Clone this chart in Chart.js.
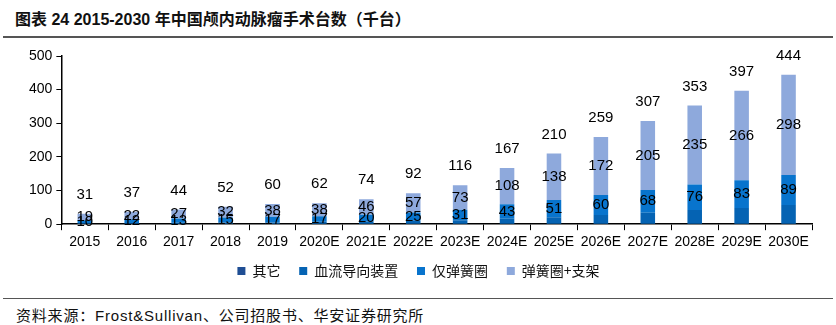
<!DOCTYPE html>
<html>
<head>
<meta charset="utf-8">
<script src="https://cdn.jsdelivr.net/npm/chart.js@4/dist/chart.umd.min.js"></script>
<style>
  body { margin: 0; background: #fff; width: 836px; height: 325px; position: relative; overflow: hidden; }
  #title { position: absolute; left: 15px; top: 6px; font: bold 16px "Liberation Sans", "Noto Sans CJK SC", sans-serif; color: #111; }
  #topline { position: absolute; left: 3px; right: 3px; top: 36px; height: 2px; background: #555; }
  #botline { position: absolute; left: 3px; right: 3px; top: 298px; height: 1px; background: #555; }
  #source { position: absolute; left: 16px; top: 304px; font: 15px "Liberation Sans", "Noto Sans CJK SC", sans-serif; letter-spacing: 0.8px; color: #111; }
  #wrap { position: absolute; left: 0; top: 40px; width: 836px; height: 248px; }
</style>
</head>
<body>
<div id="title">图表 24 2015-2030 年中国颅内动脉瘤手术台数（千台）</div>
<div id="topline"></div>
<div id="wrap"><canvas id="chart"></canvas></div>
<div id="botline"></div>
<div id="source">资料来源：Frost&amp;Sullivan、公司招股书、华安证券研究所</div>
<script>
var years = ['2015','2016','2017','2018','2019','2020E','2021E','2022E','2023E','2024E','2025E','2026E','2027E','2028E','2029E','2030E'];
// 千台
var other = [0,0,0,0,0,0,0,0,0,0,0,0,0,0,0,0];
var flowDiverter = [2,3,4,5,5,7,8,10,12,16,21,27,34,42,48,57];
var coilOnly = [10,12,13,15,17,17,20,25,31,43,51,60,68,76,83,89];
var coilStent = [19,22,27,32,38,38,46,57,73,108,138,172,205,235,266,298];
var totals = [31,37,44,52,60,62,74,92,116,167,210,259,307,353,397,444];
var yTicks = [0,100,200,300,400,500];

// draw the numbers on the bars
const labelPlugin = {
  id: 'barLabels',
  afterDatasetsDraw(chart) {
    const ctx = chart.ctx;
    ctx.save();
    ctx.font = '15px "Liberation Sans", Arial, sans-serif';
    ctx.fillStyle = '#000';
    ctx.textAlign = 'center';
    ctx.textBaseline = 'middle';
    const mCoil = chart.getDatasetMeta(2);
    const mStent = chart.getDatasetMeta(3);
    years.forEach((y, i) => {
      const a = mCoil.data[i], b = mStent.data[i];
      ctx.fillText(coilOnly[i], a.x, (a.y + a.base) / 2);
      ctx.fillText(coilStent[i], b.x, (b.y + b.base) / 2);
      ctx.fillText(totals[i], b.x, b.y - 19);
    });
    ctx.restore();
  }
};

const barCfg = { barPercentage: 0.31, categoryPercentage: 1, borderWidth: 0 };

const cfg = {
  type: 'bar',
  data: {
    labels: years,
    datasets: [
      Object.assign({ label: '其它', data: other, backgroundColor: '#1F4E94' }, barCfg),
      Object.assign({ label: '血流导向装置', data: flowDiverter, backgroundColor: '#0563B3' }, barCfg),
      Object.assign({ label: '仅弹簧圈', data: coilOnly, backgroundColor: '#0874CD' }, barCfg),
      Object.assign({ label: '弹簧圈+支架', data: coilStent, backgroundColor: '#8EA9DC' }, barCfg)
    ]
  },
  options: {
    responsive: true,
    maintainAspectRatio: false,
    animation: false,
    layout: { padding: { top: 16, left: 25, right: 24, bottom: 0 } },
    plugins: {
      tooltip: { enabled: false },
      legend: {
        position: 'bottom',
        labels: {
          boxWidth: 8, boxHeight: 8, padding: 9,
          color: '#111',
          font: { size: 14, family: '"Noto Sans CJK SC", sans-serif' },
          // a bit more room between items
          generateLabels: (chart) => Chart.defaults.plugins.legend.labels.generateLabels(chart).map((l, i, arr) => {
            if (i < arr.length - 1) l.text += '\u2002\u2009';
            return l;
          })
        }
      }
    },
    scales: {
      x: {
        stacked: true,
        grid: { display: true, drawOnChartArea: false, offset: true, tickLength: 6, color: '#000', tickColor: '#000' },
        border: { display: true, color: '#000', width: 1.5 },
        ticks: { color: '#000', font: { size: 14, family: '"Liberation Sans", Arial, sans-serif' }, maxRotation: 0, padding: 4 }
      },
      y: {
        stacked: true,
        min: 0, max: 500,
        afterBuildTicks: (axis) => { axis.ticks = yTicks.map(v => ({ value: v })); },
        grid: { display: true, drawOnChartArea: false, tickLength: 5, color: '#000', tickColor: '#000' },
        border: { display: true, color: '#000', width: 1.5 },
        ticks: { color: '#000', font: { size: 14, family: '"Liberation Sans", Arial, sans-serif' }, padding: 4 }
      }
    }
  },
  plugins: [labelPlugin]
};

const ctx = document.getElementById('chart');
window.myChart = new Chart(ctx, cfg);
</script>
</body>
</html>
